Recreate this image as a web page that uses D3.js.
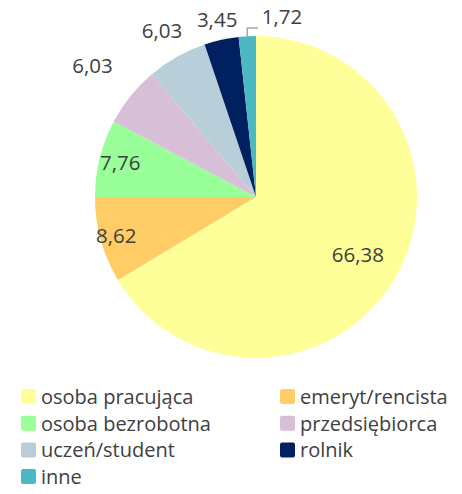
<!DOCTYPE html>
<html>
<head>
<meta charset="utf-8"/>
<script src="https://d3js.org/d3.v7.min.js"></script>
<style>
body { margin: 0; background: #fff; }
text { font-family: "Open Sans", sans-serif; fill: #404040; }
</style>
</head>
<body>
<svg id="svg" width="462" height="494"></svg>
<script>
var categories = ["osoba pracująca", "emeryt/rencista", "osoba bezrobotna", "przedsiębiorca", "uczeń/student", "rolnik", "inne"];
var values = [66.38, 8.62, 7.76, 6.03, 6.03, 3.45, 1.72];
var colors = ["#ffff99", "#ffcc66", "#99ff99", "#d8bfd8", "#b8cfda", "#002060", "#4bb8c4"];

var cx = 256, cy = 197, r = 161;
// label distance from center, per slice
var labelR = [117, 145, 140, 210, 191, 181, 185];

var svg = d3.select("#svg");
var g = svg.append("g").attr("transform", "translate(" + cx + "," + cy + ")");

var pie = d3.pie().sort(null).value(function(d){ return d; });
var arcs = pie(values);
var arc = d3.arc().innerRadius(0).outerRadius(r);

g.selectAll("path.slice")
  .data(arcs)
  .enter().append("path")
  .attr("class", "slice")
  .attr("d", arc)
  .attr("fill", function(d, i){ return colors[i]; });

function fmt(v) { return v.toFixed(2).replace(".", ","); }

g.selectAll("text.lbl")
  .data(arcs)
  .enter().append("text")
  .attr("class", "lbl")
  .attr("x", function(d, i){
    var a = (d.startAngle + d.endAngle) / 2;
    if (i == 6) return 26;
    return Math.sin(a) * labelR[i];
  })
  .attr("y", function(d, i){
    var a = (d.startAngle + d.endAngle) / 2;
    if (i == 6) return -180;
    return -Math.cos(a) * labelR[i];
  })
  .attr("text-anchor", "middle")
  .attr("dy", "0.35em")
  .style("font-size", "20.5px")
  .text(function(d){ return fmt(d.data); });

// leader line for the small slice
var last = arcs[6];
var la = (last.startAngle + last.endAngle) / 2;
var lx = Math.sin(la) * r, ly = -Math.cos(la) * r;
g.append("path")
  .attr("d", "M" + lx + "," + ly + "V" + (-169) + "H" + 2)
  .attr("fill", "none")
  .attr("stroke", "#a6a6a6")
  .attr("stroke-width", 1.5);

// legend
var legend = svg.append("g");
var items = legend.selectAll("g")
  .data(categories)
  .enter().append("g")
  .attr("transform", function(d, i){
    var col = i % 2, row = Math.floor(i / 2);
    return "translate(" + (21 + col * 259) + "," + (389 + row * 26.7) + ")";
  });
items.append("rect")
  .attr("width", 15).attr("height", 15).attr("rx", 2)
  .attr("fill", function(d, i){ return colors[i]; });
items.append("text")
  .attr("x", 20).attr("y", 8).attr("dy", "0.35em")
  .style("font-size", "20px")
  .text(function(d){ return d; });
</script>
</body>
</html>
